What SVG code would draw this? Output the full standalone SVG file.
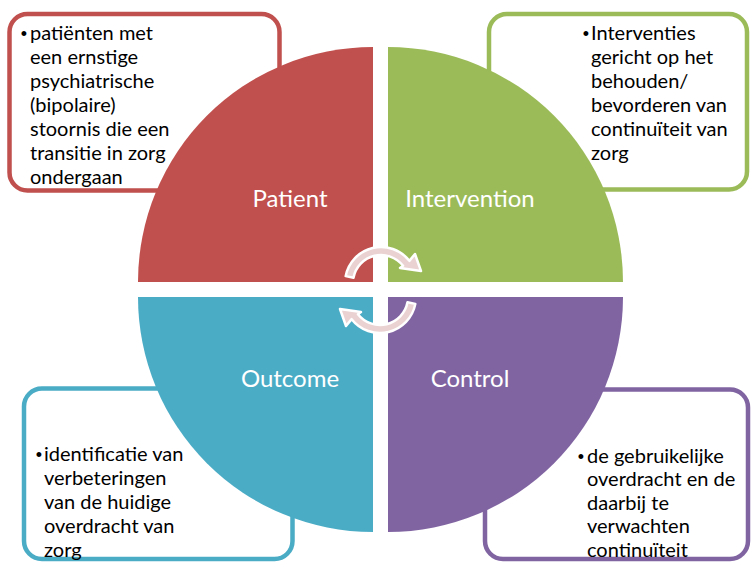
<svg xmlns="http://www.w3.org/2000/svg" width="751" height="562" viewBox="0 0 751 562">
<style>
.box{fill:#fff;stroke-width:4.5}
.t{font-family:Lato,"Open Sans","Liberation Sans",sans-serif;font-size:20px;fill:#000}
.b{font-family:"Liberation Sans",Arial,sans-serif;font-size:18px;fill:#000;text-anchor:middle}
.lbl{font-family:Lato,"Open Sans","Liberation Sans",sans-serif;font-size:24px;fill:#fff;text-anchor:middle}
.arr{fill:#EBD2D2;stroke:#fff;stroke-width:2.5;stroke-linejoin:round}
</style>
<rect width="751" height="562" fill="#fff"/>
<g id="patient">
<rect class="box" x="9.5" y="14" width="270" height="176.5" rx="18" stroke="#C0504D"/>
<path d="M373 282 H138 A235 235 0 0 1 373 47 Z" fill="#C0504D"/>
<text class="lbl" x="290" y="207">Patient</text>
<text class="b" x="24" y="40">•</text>
<text class="t"><tspan x="30" y="40">patiënten met</tspan><tspan x="30" y="64">een ernstige</tspan><tspan x="30" y="88">psychiatrische</tspan><tspan x="30" y="112">(bipolaire)</tspan><tspan x="30" y="136">stoornis die een</tspan><tspan x="30" y="160">transitie in zorg</tspan><tspan x="30" y="184">ondergaan</tspan></text>
</g>
<g id="intervention">
<rect class="box" x="489" y="14" width="258" height="175.5" rx="18" stroke="#9BBB59"/>
<path d="M388 282 V47 A235 235 0 0 1 623 282 Z" fill="#9BBB59"/>
<text class="lbl" x="470" y="207">Intervention</text>
<text class="b" x="586" y="40">•</text>
<text class="t"><tspan x="591" y="40">Interventies</tspan><tspan x="591" y="64">gericht op het</tspan><tspan x="591" y="88">behouden/</tspan><tspan x="591" y="112">bevorderen van</tspan><tspan x="591" y="136">continuïteit van</tspan><tspan x="591" y="160">zorg</tspan></text>
</g>
<g id="outcome">
<rect class="box" x="24" y="388.5" width="268.5" height="170.5" rx="18" stroke="#4BACC6"/>
<path d="M373 297 V532 A235 235 0 0 1 138 297 Z" fill="#4BACC6"/>
<text class="lbl" x="290" y="387">Outcome</text>
<text class="b" x="39" y="461">•</text>
<text class="t"><tspan x="44" y="461">identificatie van</tspan><tspan x="44" y="485">verbeteringen</tspan><tspan x="44" y="509">van de huidige</tspan><tspan x="44" y="533">overdracht van</tspan><tspan x="44" y="557">zorg</tspan></text>
</g>
<g id="control">
<rect class="box" x="485" y="389.5" width="263" height="169.5" rx="18" stroke="#8064A2"/>
<path d="M388 297 H623 A235 235 0 0 1 388 532 Z" fill="#8064A2"/>
<text class="lbl" x="470" y="387">Control</text>
<text class="b" x="581" y="462.5">•</text>
<text class="t"><tspan x="587" y="462.5">de gebruikelijke</tspan><tspan x="587" y="486">overdracht en de</tspan><tspan x="587" y="509.5">daarbij te</tspan><tspan x="587" y="533">verwachten</tspan><tspan x="587" y="556.5">continuïteit</tspan></text>
</g>
<g id="connectors">
<path id="arrowTop" class="arr" d="M345.66 276.13 A36 36 0 0 1 409.37 260.83 L415 254 L421 271 L400 268 L403.06 265.76 A28 28 0 0 0 353.51 277.66 Z"/>
<path id="arrowBottom" class="arr" transform="rotate(180 380.5 290)" d="M345.66 276.13 A36 36 0 0 1 409.37 260.83 L415 254 L421 271 L400 268 L403.06 265.76 A28 28 0 0 0 353.51 277.66 Z"/>
</g>
</svg>
